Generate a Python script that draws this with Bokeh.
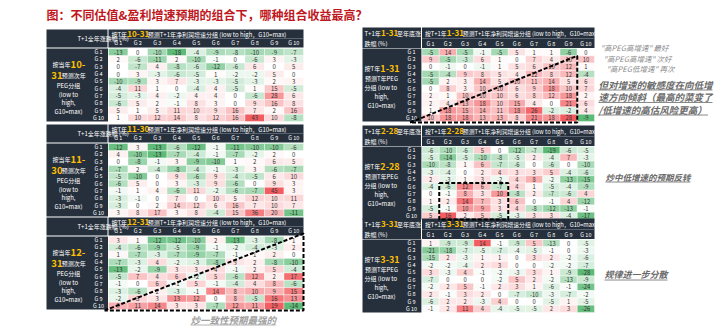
from bokeh.plotting import figure
from bokeh.models import Range1d, ColumnDataSource, LinearColorMapper
from bokeh.transform import transform
from bokeh.embed import file_html
from bokeh.resources import INLINE
from bokeh.core.properties import value

FONT = "Noto Sans CJK SC"
TITLE = "图：不同估值&盈利增速预期的组合下，哪种组合收益最高？"
GROUPS = ["G 1", "G 2", "G 3", "G 4", "G 5", "G 6", "G 7", "G 8", "G 9", "G 10"]

LEFT_DATES = [("10-", "31"), ("11-", "30"), ("12-", "31")]
RIGHT_DATES = ["1-31", "2-28", "3-31"]

# rows = PEG group G1..G10, cols = profit-growth group G1..G10
L1 = [
    [-13, 0, -10, -18, -4, -9, -8, -10, -9, -7],
    [2, -6, -11, 2, -10, -1, 0, -6, 3, -3],
    [0, -7, 4, -8, -6, -12, -6, 6, 0, 5],
    [0, 3, -3, -6, -5, 1, -2, -2, 5, 0],
    [-10, -9, 3, 7, -3, -3, -5, -3, 2, 3],
    [-4, 11, 1, 0, -4, 4, -5, 1, 15, -5],
    [-5, -3, 4, -2, 4, 4, 0, -6, 28, 6],
    [-6, 5, 2, -1, 8, 3, 0, 9, 16, 8],
    [5, 1, 5, 11, 10, 9, 16, 7, 2, 16],
    [1, 10, 12, 14, 8, 12, 16, 43, 10, -8],
]
L2 = [
    [-12, 3, -13, -6, -12, -1, -11, -10, -10, -6],
    [4, -10, -13, -7, -4, -1, -7, -2, 2, 0],
    [0, -8, -1, 3, -9, -10, 1, 2, 6, 5],
    [-7, 2, -4, -8, -4, -1, -3, 3, -6, -7],
    [-5, -10, 0, 9, -6, 9, -4, -5, 6, 10],
    [-6, 5, 0, 3, -3, 9, -6, 0, 9, 3],
    [-1, 1, 4, -6, 11, -2, -6, -7, 45, 3],
    [-3, -1, 0, 7, 0, 10, 5, 12, 10, 11],
    [-3, 0, 2, 14, 12, 6, 16, 7, 10, 7],
    [3, 8, 17, 3, 8, -4, 15, 36, 20, -11],
]
L3 = [
    [3, 1, -12, -12, -10, 2, -13, -3, -8, 1],
    [-4, -6, -9, -5, -9, -1, -2, -4, -3, 2],
    [1, -7, -3, -7, -9, -7, -1, 1, 2, 0],
    [-7, -3, 4, -2, -3, -8, 3, 2, -8, -10],
    [-13, -2, -9, 3, 3, 4, -1, 2, 5, -4],
    [-5, 7, 4, 6, -2, 5, -6, 12, 2, 17],
    [-1, 0, 6, -1, 5, -1, -4, 4, 8, -6],
    [-3, -6, 2, -3, -1, 14, 8, 10, 9, 15],
    [-2, 5, 3, 13, 12, 0, 8, -5, 16, 13],
    [9, 11, 14, 3, 3, -7, 12, 11, 19, -14],
]
R1 = [
    [-5, 14, -5, -1, -5, 5, 1, 1, -6, 0],
    [9, -5, -3, 6, 1, 0, 7, 4, 10, 10],
    [0, -1, 0, -1, 1, 5, 6, 10, 12, 1],
    [-5, -4, 9, 8, 5, 4, 12, 8, 12, -4],
    [-5, 2, 3, 14, 5, 10, 11, 14, 5, 6],
    [0, 8, 3, 10, 10, 6, 9, 18, 10, 7],
    [2, 1, 10, 10, 10, 6, 8, 12, 18, 2],
    [2, 4, 13, 18, 10, 15, 4, 0, 21, 6],
    [1, 18, 15, 14, 11, 18, 26, -2, -2, 4],
    [10, 18, 18, 13, 13, 8, 21, 18, 28, -9],
]
R2 = [
    [-6, -10, -6, 5, 0, -12, -7, -19, -6, -5],
    [-5, -14, -5, -10, -8, -5, 2, -4, 7, -3],
    [-10, -8, 1, 6, -7, -6, 0, -6, 0, -10],
    [-3, -4, 0, 2, 4, 3, 3, 5, -4, -6],
    [2, -3, 1, 3, -2, 4, 8, -2, -13, -15],
    [-4, -6, 12, 6, -7, 4, 1, -5, -4, -9],
    [0, -1, 8, 3, 10, -8, 2, -7, -6, 4],
    [1, 2, 14, 7, 3, 6, 0, -1, 4, -12],
    [-5, -1, 10, 9, 3, 4, -8, -12, -13, -1],
    [5, 16, 2, 5, -5, -3, 3, 3, -4, -17],
]
R3 = [
    [1, -9, -9, 14, -1, -9, 5, -13, 0, -5],
    [-21, -18, -7, -5, -7, -4, -5, -1, 0, -3],
    [-15, 2, -3, 1, 1, 0, 3, 2, -2, -6],
    [-2, -2, -4, 2, 3, 0, 0, -2, -2, -7],
    [3, -3, 4, -1, -2, -3, 3, 1, -9, -28],
    [-7, 0, 0, 0, -2, 5, 2, -2, -13, -9],
    [-2, 2, 5, -1, 2, 3, 1, -6, -1, -24],
    [2, -1, 3, 2, 0, -7, -10, -3, -7, -2],
    [-6, 2, 2, -3, 4, 0, 0, -5, 1, -5],
    [-1, 2, 11, 4, -4, -5, -5, 2, 3, -26],
]

NOTE_TOP = ['"高PEG高增速" 最好', '"高PEG高增速" 次好', '"高PEG低增速" 再次']
NOTE_MAIN = ["但对增速的敏感度在向低增", "速方向倾斜（最高的菜变了", "/低增速的高估风险更高）"]
NOTE_MID = "炒中低增速的预期反转"
NOTE_LOW = "规律进一步分散"
NOTE_LEFT = "炒一致性预期最强的"

NAVY = "#262f3c"
YELLOW = "#ffc000"
GREEN = (92, 186, 118)
RED = (242, 92, 96)
WHITE = "#ffffff"

p = figure(width=720, height=327, x_range=Range1d(0, 720), y_range=Range1d(327, 0),
           output_backend="svg", toolbar_location=None, min_border=0,
           x_axis_type=None, y_axis_type=None)
p.xgrid.visible = False
p.ygrid.visible = False
p.outline_line_color = None
p.background_fill_color = "white"
p.border_fill_color = "white"


def tw(s, fs):
    w = 0.0
    for ch in s:
        if ord(ch) > 0x2E80:
            w += 1.0
        elif ch == " ":
            w += 0.25
        elif ch in "()":
            w += 0.33
        elif ch == "-":
            w += 0.36
        elif ch in ",.":
            w += 0.27
        elif ch in "=+":
            w += 0.57
        elif ch.isdigit():
            w += 0.55
        elif ch.isupper():
            w += 0.63
        else:
            w += 0.52
    return w * fs


def txt(x, y, s, fs, color=WHITE, align="left", style="normal"):
    p.text(x=[x], y=[y], text=[s], text_align=align, text_baseline="middle",
           text_font_size=f"{fs}px", text_color=color, text_font=value(FONT),
           text_font_style=style)


def parts_text(parts, x, y, align="left"):
    total = sum(tw(s, fs) for s, fs, _, _ in parts)
    cx = x - total / 2 if align == "center" else x
    for s, fs, col, bold in parts:
        txt(cx, y, s, fs, col, "left", "bold" if bold else "normal")
        cx += tw(s, fs)


def mix(c, t):
    return "#%02x%02x%02x" % tuple(int(round(255 + (ci - 255) * t)) for ci in c)


def mapper(vals, n=255):
    lo = min(min(r) for r in vals)
    hi = max(max(r) for r in vals)
    pal = []
    for i in range(n):
        v = lo + (hi - lo) * (i + 0.5) / n
        if v < 0:
            pal.append(mix(GREEN, min(1.0, v / lo)))
        else:
            pal.append(mix(RED, min(1.0, v / hi)))
    return LinearColorMapper(palette=pal, low=lo, high=hi)


def table(vals, x_tab, cw, dtop, rh, fs):
    xs, ys, vs, ts = [], [], [], []
    for r, row in enumerate(vals):
        for c, v in enumerate(row):
            xs.append(x_tab + (c + 0.5) * cw)
            ys.append(dtop + (r + 0.5) * rh)
            vs.append(v)
            ts.append(str(v))
    src = ColumnDataSource(dict(x=xs, y=ys, v=vs, t=ts))
    m = mapper(vals)
    p.rect("x", "y", width=cw, height=rh, source=src, fill_color=transform("v", m),
           line_color="white", line_width=0.4)
    p.text("x", "y", text="t", source=src, text_align="center", text_baseline="middle",
           text_font_size=f"{fs}px", text_color="#333333", text_font=value(FONT))


# title
txt(46, 14, TITLE, 12, "#c0171d", "left", "bold")

# ---------------- left column ----------------
LX0, LXT, LCW = 46, 108, 19.5
LXE = LXT + 10 * LCW
L_TOPS = [29, 124, 217]
LRH = 7.3
for vals, (d1, d2), top in zip([L1, L2, L3], LEFT_DATES, L_TOPS):
    dt = top + 19
    db = dt + 10 * LRH
    p.quad(left=[LX0], right=[LXT - 1], top=[top], bottom=[top + 18], fill_color=NAVY, line_color=None)
    p.quad(left=[LXT], right=[LXE], top=[top], bottom=[top + 18], fill_color=NAVY, line_color=None)
    p.segment(x0=[LXT], y0=[top + 9], x1=[LXE], y1=[top + 9], line_color="#7d8796", line_width=0.6)
    p.quad(left=[LX0], right=[LXT - 0.5], top=[dt], bottom=[db], fill_color=NAVY, line_color=None)
    txt(77, top + 9, "T+1全年涨跌幅  (%)", 6)
    parts_text([("按T年", 6, WHITE, False), (d1 + d2, 8, YELLOW, True),
                ("预测T+1年净利润增速分组  (low to high，G10=max)", 6, WHITE, False)],
               LXT + 3, top + 4.7)
    for c in range(10):
        txt(LXT + (c + 0.5) * LCW, top + 13.7, GROUPS[c], 5.5, WHITE, "center")
    for r in range(10):
        txt(98, dt + (r + 0.5) * LRH, GROUPS[r], 5.5, WHITE, "center")
    parts_text([("按当年", 6, WHITE, False), (d1, 9.5, YELLOW, True)], 68, dt + 16, "center")
    parts_text([(d2, 9.5, YELLOW, True), ("预测次年", 6, WHITE, False)], 68, dt + 27, "center")
    txt(68, dt + 37, "PEG分组", 6, WHITE, "center")
    txt(68, dt + 45.5, "(low to", 6, WHITE, "center")
    txt(68, dt + 54, "high,", 6, WHITE, "center")
    txt(68, dt + 62.5, "G10=max)", 6, WHITE, "center")
    table(vals, LXT, LCW, dt, LRH, 6)

# ---------------- right column ----------------
RX0, RXT, RCW = 362, 421.5, 17.25
RXE = RXT + 10 * RCW
R_TOPS = [27, 125, 218]
RRH = 7.3
for vals, d, top in zip([R1, R2, R3], RIGHT_DATES, R_TOPS):
    dt = top + 21
    db = dt + 10 * RRH
    p.quad(left=[RX0], right=[RXT - 1], top=[top], bottom=[top + 20.5], fill_color=NAVY, line_color=None)
    p.quad(left=[RXT], right=[RXE], top=[top], bottom=[top + 20.5], fill_color=NAVY, line_color=None)
    p.segment(x0=[RXT], y0=[top + 11], x1=[RXE], y1=[top + 11], line_color="#7d8796", line_width=0.6)
    p.quad(left=[RX0], right=[RXT - 0.5], top=[dt], bottom=[db], fill_color=NAVY, line_color=None)
    parts_text([("T+1年", 6, WHITE, False), (d, 8, YELLOW, True), ("至年底涨", 6, WHITE, False)],
               RX0 + 2, top + 5.5)
    txt(RX0 + 2, top + 15.5, "跌幅  (%)", 6)
    parts_text([("按T+1年", 5.8, WHITE, False), (d, 8, YELLOW, True),
                ("预测T+1年净利润增速分组  (low to high，G10=max)", 5.8, WHITE, False)],
               RXT + 3, top + 5.5)
    for c in range(10):
        txt(RXT + (c + 0.5) * RCW, top + 16, GROUPS[c], 5.5, WHITE, "center")
    for r in range(10):
        txt(411, dt + (r + 0.5) * RRH, GROUPS[r], 5.5, WHITE, "center")
    parts_text([("按T年", 6, WHITE, False), (d, 9, YELLOW, True)], 381, dt + 20, "center")
    txt(381, dt + 30, "预测T年PEG", 6, WHITE, "center")
    txt(381, dt + 39, "分组  (low to", 6, WHITE, "center")
    txt(381, dt + 48, "high,", 6, WHITE, "center")
    txt(381, dt + 57, "G10=max)", 6, WHITE, "center")
    table(vals, RXT, RCW, dt, RRH, 5.8)

# ---------------- dashed highlight shapes ----------------
DASH = dict(line_color="black", line_width=2, line_dash="4 2")
# right panel 1 triangle
dt, db = R_TOPS[0] + 21, R_TOPS[0] + 21 + 10 * RRH
xr = RXT + 9 * RCW
p.line([RXT - 12, xr, xr, RXT - 12], [db + 1, dt + RRH, db + 1, db + 1], **DASH)
# left panel 3 triangle
dt, db = L_TOPS[2] + 19, L_TOPS[2] + 19 + 10 * LRH
p.line([LXT - 4, LXE, LXE, LXT - 4], [db + 1, dt - 3, db + 1, db + 1], **DASH)
# right panel 2 rectangle
dt, db = R_TOPS[1] + 21, R_TOPS[1] + 21 + 10 * RRH
x1, x2 = RXT + RCW, RXT + 5 * RCW
y1 = dt + 5 * RRH
p.line([x1, x2, x2, x1, x1], [y1, y1, db, db, y1], **DASH)

# ---------------- annotations ----------------
GRAY = "#8a8a8a"
DGRAY = "#6a6a6a"
for i, s in enumerate(NOTE_TOP):
    txt(600 + 3 * i, 47 + 10.5 * i, s, 7.5, GRAY, "left", "italic")
for i, s in enumerate(NOTE_MAIN):
    y = 84 + 12.5 * i
    txt(598, y, s, 9.5, DGRAY, "left", "bold italic")
    p.segment(x0=[598], y0=[y + 5.5], x1=[598 + tw(s, 9.5)], y1=[y + 5.5], line_color=DGRAY, line_width=0.8)
txt(605, 176, NOTE_MID, 8.5, DGRAY, "left", "bold italic")
p.segment(x0=[605], y0=[181.5], x1=[605 + tw(NOTE_MID, 8.5)], y1=[181.5], line_color=DGRAY, line_width=0.8)
txt(604, 274, NOTE_LOW, 9, DGRAY, "left", "bold italic")
p.segment(x0=[604], y0=[279.5], x1=[604 + tw(NOTE_LOW, 9)], y1=[279.5], line_color=DGRAY, line_width=0.8)
txt(190, 319, NOTE_LEFT, 9.5, "#a0a0a0", "left", "bold italic")
p.segment(x0=[190], y0=[324.5], x1=[190 + tw(NOTE_LEFT, 9.5)], y1=[324.5], line_color="#a0a0a0", line_width=0.8)

open("out.html", "w").write(file_html(p, INLINE))
